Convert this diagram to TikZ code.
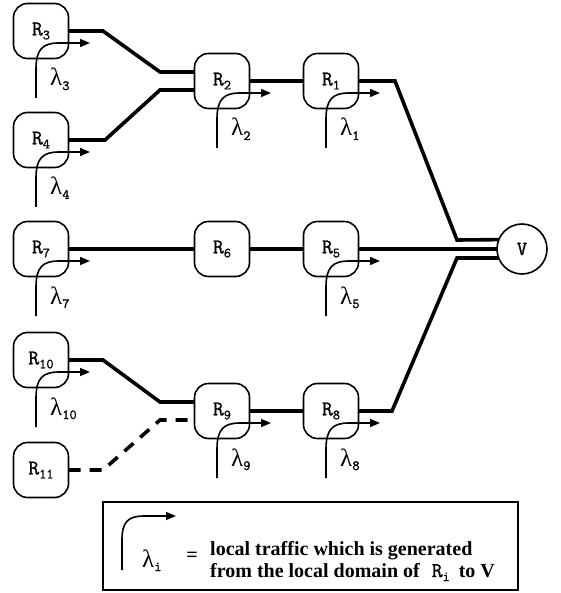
\documentclass[tikz,border=0pt]{standalone}
\usepackage{fontspec}
\setmainfont{Liberation Serif}
\newfontfamily\cour[FakeBold=1.2]{Latin Modern Mono}
\usetikzlibrary{arrows.meta,calc}
\tikzset{
  router/.style={draw, line width=1.6pt, rounded corners=14pt, minimum width=55pt, minimum height=55pt, inner sep=0pt, outer sep=0pt},
  sink/.style={draw, circle, line width=1.6pt, minimum size=50pt, inner sep=0pt, outer sep=0pt},
  link/.style={line width=3.6pt, line join=miter},
  dashlink/.style={line width=3.6pt, dash pattern=on 12pt off 9pt},
  lamline/.style={line width=1.6pt, -{Triangle[length=10pt,width=8pt]}},
  laml/.style={anchor=base west, inner sep=0pt},
  legtxt/.style={anchor=base west, inner sep=0pt, font=\bfseries\fontsize{20}{22}\selectfont},
}
\newcommand\rname[1]{{\cour\fontsize{21}{21}\selectfont R\raisebox{-4pt}{\fontsize{14}{14}\selectfont #1}}}
\newcommand\lname[1]{{\fontsize{25}{25}\selectfont λ\raisebox{-4pt}{\cour\fontsize{14}{14}\selectfont #1}}}
\newcommand\traffic[2]{%
  \begin{scope}[shift={(#1.center)}]
    \draw[lamline] (-5,67) -- (-5,38) .. controls (-5,18) and (2,12) .. (18,12) -- (49,12);
    \node[laml] (lam#2) at (9,55) {\lname{#2}};
  \end{scope}}
\begin{document}
\begin{tikzpicture}[x=1pt,y=-1pt]
\useasboundingbox (0,0) rectangle (560,593);
% routers
\node[router] (R3)  at (41,31)   {\rname{3}};
\node[router] (R4)  at (41,140)  {\rname{4}};
\node[router] (R2)  at (222,81)  {\rname{2}};
\node[router] (R1)  at (331,81)  {\rname{1}};
\node[router] (R7)  at (41,249)  {\rname{7}};
\node[router] (R6)  at (222,249) {\rname{6}};
\node[router] (R5)  at (331,249) {\rname{5}};
\node[router] (R10) at (41,360)  {\rname{10}};
\node[router] (R11) at (41,470)  {\rname{11}};
\node[router] (R9)  at (222,411) {\rname{9}};
\node[router] (R8)  at (331,411) {\rname{8}};
\node[sink]   (V)   at (522,249) {\cour\fontsize{20}{20}\selectfont V};
% junction points
\coordinate (k3) at (103,31);
\coordinate (j3) at (160,72);
\coordinate (k4) at (105,140);
\coordinate (j4) at (160,90);
\coordinate (k1) at (395,81);
\coordinate (jv1) at (457,240);
\coordinate (k8) at (392,411);
\coordinate (jv8) at (457,258);
\coordinate (k10) at (103,360);
\coordinate (j10) at (160,402);
\coordinate (k11) at (103,470);
\coordinate (j11) at (160,420);
% links
\draw[link] (R3.east) -- (k3) -- (j3) -- (R2.west |- j3);
\draw[link] (R4.east) -- (k4) -- (j4) -- (R2.west |- j4);
\draw[link] (R2.east) -- (R1.west);
\draw[link] (R1.east) -- (k1) -- (jv1) -- (V.158.9);
\draw[link] (R7.east) -- (R6.west);
\draw[link] (R6.east) -- (R5.west);
\draw[link] (R5.east) -- (V.west);
\draw[link] (R10.east) -- (k10) -- (j10) -- (R9.west |- j10);
\draw[dashlink] (R11.east) -- (k11) -- (j11) -- (R9.west |- j11);
\draw[link] (R9.east) -- (R8.west);
\draw[link] (R8.east) -- (k8) -- (jv8) -- (V.201.1);
% local traffic
\traffic{R3}{3}
\traffic{R4}{4}
\traffic{R2}{2}
\traffic{R1}{1}
\traffic{R7}{7}
\traffic{R5}{5}
\traffic{R10}{10}
\traffic{R9}{9}
\traffic{R8}{8}
% legend
\node[draw, line width=1.6pt, minimum width=415pt, minimum height=88pt, inner sep=0pt, outer sep=0pt, anchor=north west] (legend) at (103,502) {};
\draw[lamline] (122,570) -- (122,540) .. controls (122,522) and (128,516) .. (144,516) -- (176,516);
\node[laml] (lami) at (142,567) {\lname{i}};
\node[legtxt, anchor=base] (eq) at (192,561) {=};
\node[legtxt] (leg1) at (210,555) {local traffic which is generated};
\node[legtxt] (leg2) at (210,577) {from the local domain of\hspace{12pt}\rname{i}\hspace{9pt}to V};
\end{tikzpicture}
\end{document}
